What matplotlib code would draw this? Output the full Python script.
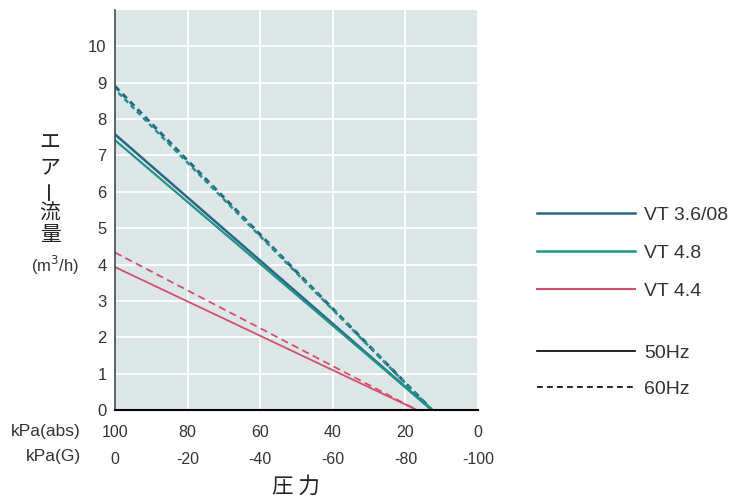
import numpy as np
import matplotlib.pyplot as plt
from matplotlib.lines import Line2D

plt.rcParams['font.family'] = ['Liberation Sans', 'Noto Sans CJK JP', 'DejaVu Sans']

# pressure kPa(abs) at start and end of each line
p_abs = [100, 12.7]
p_abs_red = [100, 16.8]

vt36_50 = [7.58, 0]
vt36_60 = [8.9, 0]
vt48_50 = [7.42, 0]
vt48_60 = [8.82, 0]
vt44_50 = [3.93, 0]
vt44_60 = [4.33, 0]

xticks = [100, 80, 60, 40, 20, 0]
xticks_g = [0, -20, -40, -60, -80, -100]
yticks = list(range(0, 11))

c_blue = '#2b6688'
c_teal = '#1f9488'
c_red = '#d2506c'

fig = plt.figure(figsize=(7.3, 5), dpi=100)
ax = fig.add_axes([115/730, 1-410/500, 363/730, 400/500])
ax.set_facecolor('#dde6e6')

ax.plot(p_abs, vt36_60, color=c_blue, lw=2.2, ls=(0, (2, 1.5)))
ax.plot(p_abs, vt48_60, color=c_teal, lw=1.8, ls=(1.5, (2, 1.5)))
ax.plot(p_abs, vt36_50, color=c_blue, lw=1.8)
ax.plot(p_abs, vt48_50, color=c_teal, lw=1.6)
ax.plot(p_abs_red, vt44_60, color=c_red, lw=1.3, ls=(0, (4, 2.5)))
ax.plot(p_abs_red, vt44_50, color=c_red, lw=1.3)

ax.set_xlim(100, 0)
ax.set_ylim(0, 11)
ax.set_xticks(xticks)
ax.set_xticklabels([f'{a}\n{g}' for a, g in zip(xticks, xticks_g)], linespacing=1.95)
ax.set_yticks(yticks)
ax.tick_params(length=0, colors='#333333')
ax.tick_params(axis='y', pad=6, labelsize=12)
ax.tick_params(axis='x', pad=11, labelsize=11.5)
ax.grid(True, color='white', lw=1.3)
ax.set_axisbelow(True)
for s in ['top', 'right']:
    ax.spines[s].set_visible(False)
ax.spines['bottom'].set_color('black')
ax.spines['bottom'].set_linewidth(1.5)
ax.spines['left'].set_color('#3d4a4a')
ax.spines['left'].set_linewidth(1.2)

fig.text(81/730, 1-444/500, 'kPa(abs)\nkPa(G)', ha='right', va='center',
         fontsize=12.5, color='#333333', linespacing=1.9)
fig.text(296/730, 1-487/500, '圧 力', ha='center', va='center', fontsize=15.5,
         color='#222222', family=['Noto Sans CJK JP'])

# vertical y label
ychars = ['エ', 'ア', 'ー', '流', '量']
ypos = [143, 167, 190, 213, 235]
for ch, yp in zip(ychars, ypos):
    fig.text(50/730, 1-yp/500, ch, ha='center', va='center', fontsize=15,
             color='#222222', family=['Noto Sans CJK JP'],
             rotation=90 if ch == 'ー' else 0)
fig.text(55/730, 1-265/500, '(m$^3$/h)', ha='center', va='center', fontsize=12,
         color='#333333')

model_handles = [
    Line2D([], [], color=c_blue, lw=1.8),
    Line2D([], [], color=c_teal, lw=1.8),
    Line2D([], [], color=c_red, lw=1.5),
]
model_labels = ['VT 3.6/08', 'VT 4.8', 'VT 4.4']
hz_handles = [
    Line2D([], [], color='black', lw=1.2),
    Line2D([], [], color='black', lw=1.2, ls=(0, (3.5, 2.5))),
]
hz_labels = ['50Hz', '60Hz']
leg_kw = dict(loc='center left', frameon=False, fontsize=14, handlelength=5.05,
              handletextpad=0.5, labelcolor='#333333')
fig.legend(model_handles, model_labels, bbox_to_anchor=(519/730, 1-253/500),
           labelspacing=1.05, **leg_kw)
fig.legend(hz_handles, hz_labels, bbox_to_anchor=(519/730, 1-371/500),
           labelspacing=0.95, **leg_kw)

fig.savefig('out.png', dpi=100)
